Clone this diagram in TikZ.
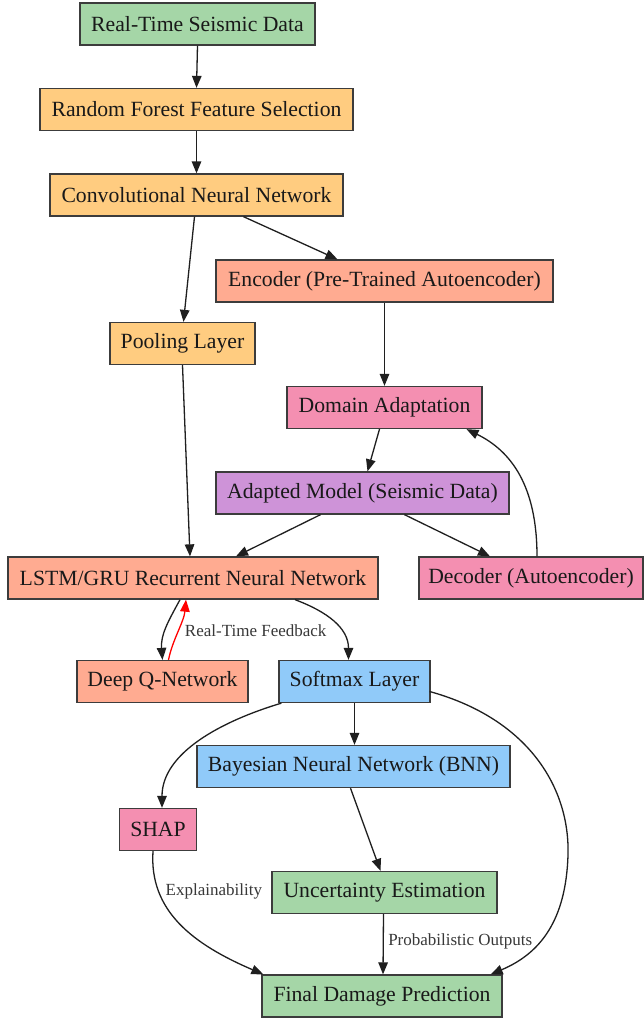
\documentclass[tikz,border=0pt]{standalone}
\usepackage{fontspec}
\setmainfont{Liberation Serif}
\usetikzlibrary{arrows.meta,calc}
\definecolor{cgreen}{HTML}{A5D6A7}
\definecolor{corange}{HTML}{FFCC80}
\definecolor{csalmon}{HTML}{FFAB91}
\definecolor{cpink}{HTML}{F48FB1}
\definecolor{cpurple}{HTML}{CE93D8}
\definecolor{cblue}{HTML}{90CAF9}
\definecolor{cborder}{HTML}{3C3C3C}
\begin{document}
\begin{tikzpicture}[x=1pt,y=-1pt,
 box/.style={draw=cborder, line width=1.3pt, minimum height=42pt, inner sep=0pt,
   font=\fontsize{21.7}{24}\selectfont, text=black!90},
 conn/.style={line width=1.3pt, draw=black!88, -{Triangle[length=12pt,width=9.5pt]}},
 fb/.style={line width=1.3pt, draw=red, -{Triangle[length=12pt,width=9.5pt,fill=red]}},
 lbl/.style={font=\fontsize{17}{19}\selectfont, text=black!78}]
\useasboundingbox[fill=white] (0,0) rectangle (644,1018);

\node[box, fill=cgreen,  minimum width=235] (rt)   at (197.5,24)   {Real-Time Seismic Data};
\node[box, fill=corange, minimum width=313] (rf)   at (196.5,109.5){Random Forest Feature Selection};
\node[box, fill=corange, minimum width=293] (cnn)  at (196.5,195)  {Convolutional Neural Network};
\node[box, fill=csalmon, minimum width=337] (enc)  at (384.5,281)  {Encoder (Pre-Trained Autoencoder)};
\node[box, fill=corange, minimum width=145] (pool) at (182.5,343.5){Pooling Layer};
\node[box, fill=cpink,   minimum width=195] (dom)  at (384.5,407.5){Domain Adaptation};
\node[box, fill=cpurple, minimum width=293] (ada)  at (362.5,493)  {Adapted Model (Seismic Data)};
\node[box, fill=csalmon, minimum width=370] (lstm) at (193,578)    {LSTM/GRU Recurrent Neural Network};
\node[box, fill=cpink,   minimum width=224] (dec)  at (531,578)    {Decoder (Autoencoder)};
\node[box, fill=csalmon, minimum width=171] (dqn)  at (162.5,681.5){Deep Q-Network};
\node[box, fill=cblue,   minimum width=151] (soft) at (354.5,681.5){Softmax Layer};
\node[box, fill=cblue,   minimum width=313] (bnn)  at (353.5,766.5){Bayesian Neural Network (BNN)};
\node[box, fill=cpink,   minimum width=77]  (shap) at (158,829.5)  {SHAP};
\node[box, fill=cgreen,  minimum width=225] (unc)  at (384.5,892.5){Uncertainty Estimation};
\node[box, fill=cgreen,  minimum width=240] (fin)  at (382,996)    {Final Damage Prediction};

\draw[conn] (rt.south) -- (rf.north);
\draw[conn] (rf.south) -- (cnn.north);
\draw[conn] ($(cnn.south)+(-2,0)$) -- ($(pool.north)+(1,0)$);
\draw[conn] ($(cnn.south)+(47,0)$) -- ($(enc.north)+(-47,0)$);
\draw[conn] (enc.south) -- (dom.north);
\draw[conn] ($(dom.south)+(-5,0)$) -- ($(ada.north)+(5,0)$);
\draw[conn] ($(dec.north)+(6,0)$) .. controls +(0,-70) and +(45,22) .. ($(dom.south)+(82,0)$);
\draw[conn] ($(ada.south)+(-42,0)$) -- ($(lstm.north)+(43,0)$);
\draw[conn] ($(ada.south)+(42,0)$) -- ($(dec.north)+(-41,0)$);
\draw[conn] (pool.south) -- ($(lstm.north)+(-3,0)$);
\draw[conn] ($(lstm.south)+(-13,0)$) .. controls +(-12,22) and +(-2,-25) .. (dqn.north);
\draw[fb] ($(dqn.north)+(6,0)$) .. controls +(4,-20) and +(-2,22) .. ($(lstm.south)+(-7,0)$)
   node[lbl, pos=0.5, right=3pt] {Real-Time Feedback};
\draw[conn] ($(lstm.south)+(102,0)$) .. controls +(32,12) and +(0,-32) .. ($(soft.north)+(-6,0)$);
\draw[conn] (soft.south) -- (soft.south |- bnn.north);
\draw[conn] ($(soft.south west)+(3,0)$) .. controls +(-60,18) and +(0,-55) .. ($(shap.north)+(4,0)$);
\draw[conn] ($(soft.east)+(-1,10)$) .. controls +(101,28) and +(2,-65) .. (568,855)
   .. controls +(-2,65) and +(50,-21) .. ($(fin.north east)+(-12,0)$);
\draw[conn] ($(bnn.south)+(-3,0)$) -- ($(unc.north)+(-4,0)$);
\draw[conn] ($(shap.south)+(-5,0)$) .. controls +(-4,60) and +(-70,-30) .. ($(fin.north west)+(2,0)$)
   node[lbl, pos=0.25, right=3pt] {Explainability};
\draw[conn] ($(unc.south)+(-1,0)$) -- ($(fin.north)+(1,0)$)
   node[lbl, pos=0.45, right=1pt] {Probabilistic Outputs};
\end{tikzpicture}
\end{document}
